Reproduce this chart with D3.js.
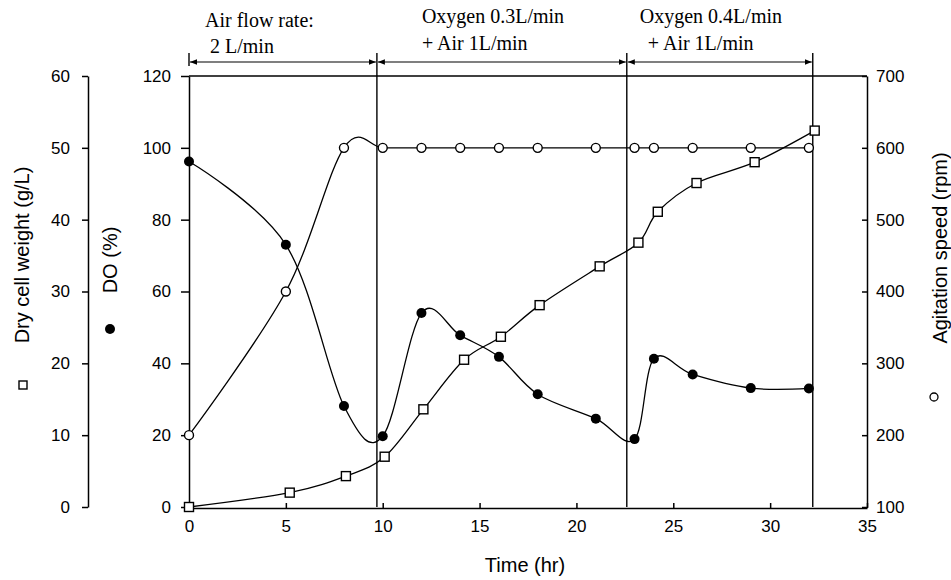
<!DOCTYPE html>
<html>
<head>
<meta charset="utf-8">
<script src="https://cdnjs.cloudflare.com/ajax/libs/d3/7.8.5/d3.min.js"></script>
<style>
  body { margin: 0; background: #fff; }
  svg { display: block; }
  .tick text { font-family: "Liberation Sans", Arial, sans-serif; font-size: 17px; fill: #000; }
  .title { font-family: "Liberation Sans", Arial, sans-serif; font-size: 20px; fill: #000; }
  .note { font-family: "Liberation Serif", "Times New Roman", serif; font-size: 20px; fill: #000; }
</style>
</head>
<body>
<div id="chart"></div>
<script>
'use strict';

// sampling times (hr)
var times = [0, 5, 8, 10, 12, 14, 16, 18, 21, 23, 24, 26, 29, 32];
// dissolved oxygen (%)
var doValues = [96.2, 73.0, 28.1, 19.7, 54.0, 47.8, 41.8, 31.4, 24.6, 18.9, 41.3, 36.9, 33.1, 33.0];
// agitation speed (rpm)
var agitation = [200, 400, 600, 600, 600, 600, 600, 600, 600, 600, 600, 600, 600, 600];
// dry cell weight (g/L), squares sit a little to the right
var dcwTimes = [0, 5.2, 8.1, 10.1, 12.1, 14.2, 16.1, 18.1, 21.2, 23.2, 24.2, 26.2, 29.2, 32.3];
var dcwValues = [0, 2.0, 4.3, 7.0, 13.6, 20.5, 23.7, 28.1, 33.5, 36.8, 41.1, 45.1, 48.0, 52.4];

// gas supply phases
var phaseBounds = [0, 9.7, 22.6, 32.2];
var phaseLine1 = ['Air flow rate:', 'Oxygen 0.3L/min', 'Oxygen 0.4L/min'];
var phaseLine2 = ['2 L/min', '+ Air 1L/min', '+ Air 1L/min'];

var xTicks = [0, 5, 10, 15, 20, 25, 30, 35];
var doTicks = [0, 20, 40, 60, 80, 100, 120];
var dcwTicks = [0, 10, 20, 30, 40, 50, 60];
var agTicks = [100, 200, 300, 400, 500, 600, 700];

var width = 951, height = 580;
var plotLeft = 189, plotRight = 867, plotTop = 76, plotBottom = 507;

var svg = d3.select('#chart')
            .append('svg')
            .attr('width', width)
            .attr('height', height);

var x = d3.scaleLinear().domain([0, 35]).range([plotLeft, plotRight]);
var yDO = d3.scaleLinear().domain([0, 120]).range([plotBottom, plotTop]);
var yDCW = d3.scaleLinear().domain([0, 60]).range([plotBottom, plotTop]);
var yAg = d3.scaleLinear().domain([100, 700]).range([plotBottom, plotTop]);

// axes
svg.append('g')
   .attr('transform', 'translate(0,' + (plotBottom + 1) + ')')
   .call(d3.axisBottom(x).tickValues(xTicks).tickSizeInner(-5).tickSizeOuter(0).tickPadding(12));

svg.append('g')
   .attr('transform', 'translate(' + plotLeft + ',0)')
   .call(d3.axisLeft(yDO).tickValues(doTicks).tickSizeInner(8).tickSizeOuter(0).tickPadding(10));

svg.append('g')
   .attr('transform', 'translate(88,0)')
   .call(d3.axisLeft(yDCW).tickValues(dcwTicks).tickSizeInner(6).tickSizeOuter(0).tickPadding(12));

svg.append('g')
   .attr('transform', 'translate(' + plotRight + ',0)')
   .call(d3.axisRight(yAg).tickValues(agTicks).tickSizeInner(-5).tickSizeOuter(0).tickPadding(9));

svg.selectAll('.domain, .tick line').attr('stroke', '#000').attr('stroke-width', 1.5);
svg.selectAll('.tick text').attr('fill', '#000');

// top frame line
svg.append('line')
   .attr('x1', plotLeft).attr('x2', plotRight)
   .attr('y1', plotTop).attr('y2', plotTop)
   .attr('stroke', '#000').attr('stroke-width', 1.5);

// phase separators and arrows
var arrowY = 62, barTop = 53;

svg.append('defs').append('marker')
   .attr('id', 'head')
   .attr('viewBox', '0 0 10 10')
   .attr('refX', 10).attr('refY', 5)
   .attr('markerWidth', 7).attr('markerHeight', 7)
   .attr('markerUnits', 'userSpaceOnUse')
   .attr('orient', 'auto-start-reverse')
   .append('path')
   .attr('d', 'M0,1L10,5L0,9Z')
   .attr('fill', '#000');

svg.selectAll('line.sep')
   .data(phaseBounds)
   .enter()
   .append('line')
   .attr('class', 'sep')
   .attr('x1', function (d) { return x(d); })
   .attr('x2', function (d) { return x(d); })
   .attr('y1', barTop)
   .attr('y2', function (d, i) { return i === 0 ? 66 : plotBottom; })
   .attr('stroke', '#000').attr('stroke-width', 1.4);

var phases = d3.range(phaseBounds.length - 1);

svg.selectAll('line.arrow')
   .data(phases)
   .enter()
   .append('line')
   .attr('class', 'arrow')
   .attr('x1', function (i) { return x(phaseBounds[i]) + 1; })
   .attr('x2', function (i) { return x(phaseBounds[i + 1]) - 1; })
   .attr('y1', arrowY).attr('y2', arrowY)
   .attr('stroke', '#000').attr('stroke-width', 1.2)
   .attr('marker-start', 'url(#head)')
   .attr('marker-end', 'url(#head)');

var line1Dx = [16, 45, 13], line2Dx = [21, 45, 21];

svg.selectAll('text.l1')
   .data(phases)
   .enter()
   .append('text')
   .attr('class', 'note')
   .attr('x', function (i) { return x(phaseBounds[i]) + line1Dx[i]; })
   .attr('y', function (i) { return i === 0 ? 27 : 23; })
   .text(function (i) { return phaseLine1[i]; });

svg.selectAll('text.l2')
   .data(phases)
   .enter()
   .append('text')
   .attr('class', 'note')
   .attr('x', function (i) { return x(phaseBounds[i]) + line2Dx[i]; })
   .attr('y', function (i) { return i === 0 ? 53 : 50; })
   .text(function (i) { return phaseLine2[i]; });

// series
var curve = d3.curveCardinal.tension(0);

var agData = times.map(function (t, i) { return [t, agitation[i]]; });
var doData = times.map(function (t, i) { return [t, doValues[i]]; });
var dcwData = dcwTimes.map(function (t, i) { return [t, dcwValues[i]]; });

function drawLine(data, yScale) {
  svg.append('path')
     .datum(data)
     .attr('fill', 'none')
     .attr('stroke', '#000')
     .attr('stroke-width', 1.3)
     .attr('d', d3.line()
                  .curve(curve)
                  .x(function (d) { return x(d[0]); })
                  .y(function (d) { return yScale(d[1]); }));
}

drawLine(agData, yAg);
drawLine(doData, yDO);
drawLine(dcwData, yDCW);

svg.selectAll('circle.ag')
   .data(agData)
   .enter()
   .append('circle')
   .attr('class', 'ag')
   .attr('cx', function (d) { return x(d[0]); })
   .attr('cy', function (d) { return yAg(d[1]); })
   .attr('r', 4.5)
   .attr('fill', '#fff').attr('stroke', '#000').attr('stroke-width', 1.4);

svg.selectAll('circle.do')
   .data(doData)
   .enter()
   .append('circle')
   .attr('class', 'do')
   .attr('cx', function (d) { return x(d[0]); })
   .attr('cy', function (d) { return yDO(d[1]); })
   .attr('r', 5)
   .attr('fill', '#000');

svg.selectAll('rect.dcw')
   .data(dcwData)
   .enter()
   .append('rect')
   .attr('class', 'dcw')
   .attr('x', function (d) { return x(d[0]) - 4.5; })
   .attr('y', function (d) { return yDCW(d[1]) - 4.5; })
   .attr('width', 9).attr('height', 9)
   .attr('fill', '#fff').attr('stroke', '#000').attr('stroke-width', 1.4);

// axis titles with their symbols
svg.append('text')
   .attr('class', 'title')
   .attr('text-anchor', 'middle')
   .attr('transform', 'translate(29,255) rotate(-90)')
   .text('Dry cell weight (g/L)');
svg.append('rect')
   .attr('x', 19).attr('y', 381).attr('width', 8).attr('height', 8)
   .attr('fill', '#fff').attr('stroke', '#000').attr('stroke-width', 1.4);

svg.append('text')
   .attr('class', 'title')
   .attr('text-anchor', 'middle')
   .attr('transform', 'translate(117,260) rotate(-90)')
   .text('DO (%)');
svg.append('circle')
   .attr('cx', 110).attr('cy', 329).attr('r', 5)
   .attr('fill', '#000');

svg.append('text')
   .attr('class', 'title')
   .attr('text-anchor', 'middle')
   .attr('transform', 'translate(947,248) rotate(-90)')
   .text('Agitation speed (rpm)');
svg.append('circle')
   .attr('cx', 934).attr('cy', 397).attr('r', 4)
   .attr('fill', '#fff').attr('stroke', '#000').attr('stroke-width', 1.3);

svg.append('text')
   .attr('class', 'title')
   .attr('text-anchor', 'middle')
   .attr('x', 525).attr('y', 572)
   .text('Time (hr)');
</script>
</body>
</html>
